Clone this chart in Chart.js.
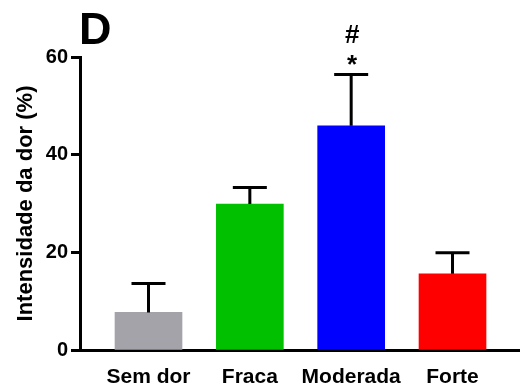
<!DOCTYPE html>
<html>
<head>
<meta charset="utf-8">
<script src="https://cdn.jsdelivr.net/npm/chart.js@4"></script>
<style>
  html, body { margin: 0; padding: 0; background: #fff; }
  #box { width: 520px; height: 392px; }
</style>
</head>
<body>
<div id="box"><canvas id="grafico"></canvas></div>
<script>
var categorias = ['Sem dor', 'Fraca', 'Moderada', 'Forte'];
var medias = [7.7, 29.9, 45.9, 15.6];
var erros = [5.9, 3.4, 10.5, 4.3];
var cores = ['#a3a3a9', '#00c000', '#0000ff', '#ff0000'];
var marcas = [[], [], ['*', '#'], []];
var ticksY = [0, 20, 40, 60];

var fonte = '"Liberation Sans", Arial, sans-serif';

// barras de erro (so para cima) e marcas de significancia
var errorBars = {
    id: 'errorBars',
    afterDatasetsDraw: function(chart) {
        var c = chart.ctx;
        var y = chart.scales.y;
        var meta = chart.getDatasetMeta(0);
        c.save();
        c.strokeStyle = '#000';
        c.lineWidth = 3;
        meta.data.forEach(function(bar, i) {
            var topo = y.getPixelForValue(medias[i] + erros[i]);
            c.beginPath();
            c.moveTo(bar.x, bar.y);
            c.lineTo(bar.x, topo);
            c.moveTo(bar.x - 17, topo);
            c.lineTo(bar.x + 17, topo);
            c.stroke();
            c.fillStyle = '#000';
            c.font = 'bold 26px ' + fonte;
            c.textAlign = 'center';
            c.textBaseline = 'alphabetic';
            marcas[i].forEach(function(m, k) {
                c.fillText(m, bar.x + 1, topo + (m === '*' ? -2 : -32));
            });
        });
        c.restore();
    }
};

var ctx = document.getElementById('grafico');
var grafico = new Chart(ctx, {
    type: 'bar',
    data: {
        datasets: [{
            data: medias.map(function(v, i) { return { x: i, y: v }; }),
            backgroundColor: cores,
            borderWidth: 0,
            barThickness: 67
        }]
    },
    options: {
        responsive: true,
        maintainAspectRatio: false,
        animation: false,
        layout: { padding: { top: 57, left: 13, right: 0, bottom: 0 } },
        plugins: {
            legend: { display: false },
            tooltip: { enabled: false }
        },
        scales: {
            x: {
                type: 'linear',
                offset: false,
                min: -0.676,
                max: 3.666,
                afterBuildTicks: function(s) {
                    s.ticks = categorias.map(function(c, i) { return { value: i }; });
                },
                afterFit: function(s) { s.height = 42; },
                grid: { display: false, drawTicks: false, offset: false },
                border: { display: true, color: '#000', width: 3 },
                ticks: {
                    color: '#000',
                    padding: 15,
                    maxRotation: 0,
                    autoSkip: false,
                    font: { family: fonte, size: 21, weight: 'bold' },
                    callback: function(v) { return categorias[v]; }
                }
            },
            y: {
                min: 0,
                max: 60,
                afterBuildTicks: function(s) {
                    s.ticks = ticksY.map(function(v) { return { value: v }; });
                },
                afterFit: function(s) { s.width = 67; },
                grid: {
                    drawOnChartArea: false,
                    drawTicks: true,
                    tickLength: 9,
                    tickWidth: 3,
                    color: '#000'
                },
                border: { display: true, color: '#000', width: 3 },
                ticks: {
                    color: '#000',
                    padding: 3,
                    font: { family: fonte, size: 20, weight: 'bold' }
                },
                title: {
                    display: true,
                    text: 'Intensidade da dor (%)',
                    color: '#000',
                    padding: { top: 0, bottom: 4 },
                    font: { family: fonte, size: 22, weight: 'bold' }
                }
            }
        }
    },
    plugins: [errorBars, {
        id: 'letra',
        afterDraw: function(chart) {
            var c = chart.ctx;
            c.save();
            c.fillStyle = '#000';
            c.font = 'bold 45px ' + fonte;
            c.textBaseline = 'alphabetic';
            c.fillText('D', 79, 44);
            c.restore();
        }
    }]
});
</script>
</body>
</html>
